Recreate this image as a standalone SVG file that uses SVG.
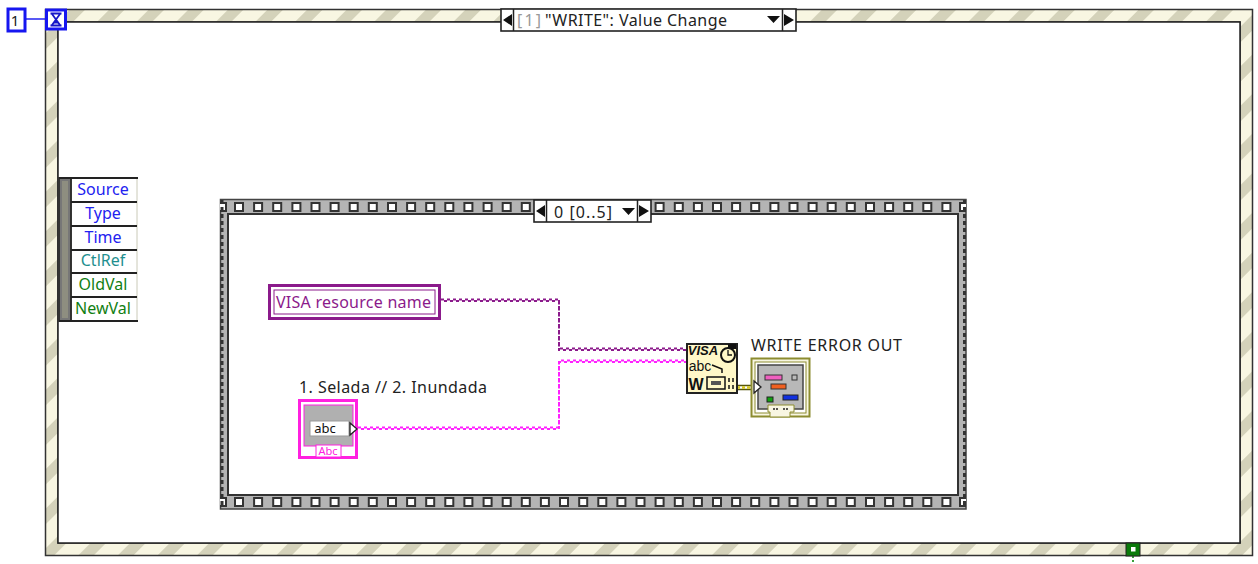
<svg xmlns="http://www.w3.org/2000/svg" width="1258" height="564" viewBox="0 0 1258 564">
<style>
text{font-family:"Noto Sans","DejaVu Sans",sans-serif;font-size:16px;text-anchor:middle}
.icon{font-family:"Liberation Sans",Arial,sans-serif;fill:#111}
.blue{fill:#2222f0}.teal{fill:#1f8f8f}.green{fill:#128012}
.hole{fill:#fff;stroke:#333;stroke-width:2}
.w{fill:none;stroke-width:2;stroke-dasharray:3 3}
</style>
<defs>
<pattern id="stripe" width="28" height="28" patternUnits="userSpaceOnUse" patternTransform="rotate(45)">
<rect width="28" height="28" fill="#f8f6e2"/><rect width="11" height="28" fill="#d4d2ba"/>
</pattern>
<rect id="h" class="hole" x="-4" y="-4" width="8" height="8"/>
<path id="wireV" d="M441 299.500H559V348.500H687"/>
<path id="wireP" d="M358 427.500H559V360.500H687"/>
<clipPath id="seqclip"><rect x="220" y="199" width="746" height="310"/></clipPath>
</defs>
<rect width="1258" height="564" fill="#fff"/>
<g id="event-frame">
<path d="M45.500 9.500H1252.500V555.500H45.500ZM58 22V543H1240V22Z" fill="url(#stripe)" fill-rule="evenodd" stroke="#333" stroke-width="1.500"/>
<rect x="58" y="22" width="1182" height="521" fill="#fff" stroke="#222" stroke-width="1.500"/>
</g>
<g id="timeout-constant">
<path d="M26 19H46" stroke="#2222f0" stroke-width="1.500"/>
<rect x="8" y="9" width="17" height="22" fill="#fff" stroke="#1616f0" stroke-width="3"/>
<text x="15" y="26" style="font-size:15px;fill:#222">1</text>
</g>
<g id="timeout-terminal">
<rect x="46.500" y="10" width="19" height="19" fill="#fff" stroke="#1616f0" stroke-width="3"/>
<path d="M50.500 13.500H61.500M50.500 25.500H61.500M52 14L60 25M60 14L52 25" fill="none" stroke="#1616c8" stroke-width="1.800"/>
<path d="M53 23.500H59L56 20Z" fill="#1616c8"/>
</g>
<g id="event-selector">
<rect x="501" y="9" width="295" height="22" fill="#fff" stroke="#222" stroke-width="1.600"/>
<path d="M513.500 9V31M782.500 9V31" stroke="#222" stroke-width="1.500"/>
<path d="M512 14V26L503 20ZM784 14V26L794 20ZM767 16H780L773.500 23Z" fill="#111"/>
<text x="529" y="26" textLength="24" style="fill:#999">[1]</text>
<text x="636" y="26" textLength="182" style="fill:#222">"WRITE": Value Change</text>
</g>
<g id="event-data-node">
<rect x="59" y="178" width="12" height="143" fill="#777" stroke="#333" stroke-width="2"/>
<rect x="62" y="181" width="6" height="137" fill="#8e8e80"/>
<rect x="71" y="178" width="66" height="143" fill="#fff" stroke="#dcdcd0" stroke-width="1.500"/>
<path d="M59 178H138M71 202H137M71 226H137M71 250H137M71 273H137M71 297H137M59 321H138M71 178V321" fill="none" stroke="#222" stroke-width="1.800"/>
<text class="blue" x="103" y="195">Source</text>
<text class="blue" x="103" y="219">Type</text>
<text class="blue" x="103" y="243">Time</text>
<text class="teal" x="103" y="266">CtlRef</text>
<text class="green" x="103" y="290">OldVal</text>
<text class="green" x="103" y="314">NewVal</text>
</g>
<g id="sequence-frame">
<path d="M220.500 199.500H966V509H220.500ZM228 214V495H958V214Z" fill="#b4b4b4" fill-rule="evenodd" stroke="#444" stroke-width="1.500"/>
<rect x="228" y="214" width="730" height="281" fill="#fff" stroke="#333" stroke-width="2"/>
<g id="holes-top">
<use href="#h" x="239" y="207"/><use href="#h" x="258.100" y="207"/><use href="#h" x="277.200" y="207"/><use href="#h" x="296.400" y="207"/><use href="#h" x="315.500" y="207"/><use href="#h" x="334.600" y="207"/><use href="#h" x="353.700" y="207"/><use href="#h" x="372.800" y="207"/><use href="#h" x="392" y="207"/><use href="#h" x="411.100" y="207"/><use href="#h" x="430.200" y="207"/><use href="#h" x="449.300" y="207"/><use href="#h" x="468.400" y="207"/><use href="#h" x="487.600" y="207"/><use href="#h" x="506.700" y="207"/><use href="#h" x="525.800" y="207"/>
<use href="#h" x="659.600" y="207"/><use href="#h" x="678.800" y="207"/><use href="#h" x="697.900" y="207"/><use href="#h" x="717" y="207"/><use href="#h" x="736.100" y="207"/><use href="#h" x="755.200" y="207"/><use href="#h" x="774.400" y="207"/><use href="#h" x="793.500" y="207"/><use href="#h" x="812.600" y="207"/><use href="#h" x="831.700" y="207"/><use href="#h" x="850.800" y="207"/><use href="#h" x="870" y="207"/><use href="#h" x="889.100" y="207"/><use href="#h" x="908.200" y="207"/><use href="#h" x="927.300" y="207"/><use href="#h" x="946.400" y="207"/>
</g>
<g id="holes-bottom">
<use href="#h" x="239" y="502"/><use href="#h" x="258.100" y="502"/><use href="#h" x="277.200" y="502"/><use href="#h" x="296.400" y="502"/><use href="#h" x="315.500" y="502"/><use href="#h" x="334.600" y="502"/><use href="#h" x="353.700" y="502"/><use href="#h" x="372.800" y="502"/><use href="#h" x="392" y="502"/><use href="#h" x="411.100" y="502"/><use href="#h" x="430.200" y="502"/><use href="#h" x="449.300" y="502"/><use href="#h" x="468.400" y="502"/><use href="#h" x="487.600" y="502"/><use href="#h" x="506.700" y="502"/><use href="#h" x="525.800" y="502"/><use href="#h" x="544.900" y="502"/><use href="#h" x="564" y="502"/><use href="#h" x="583.200" y="502"/><use href="#h" x="602.300" y="502"/><use href="#h" x="621.400" y="502"/><use href="#h" x="640.500" y="502"/><use href="#h" x="659.600" y="502"/><use href="#h" x="678.800" y="502"/><use href="#h" x="697.900" y="502"/><use href="#h" x="717" y="502"/><use href="#h" x="736.100" y="502"/><use href="#h" x="755.200" y="502"/><use href="#h" x="774.400" y="502"/><use href="#h" x="793.500" y="502"/><use href="#h" x="812.600" y="502"/><use href="#h" x="831.700" y="502"/><use href="#h" x="850.800" y="502"/><use href="#h" x="870" y="502"/><use href="#h" x="889.100" y="502"/><use href="#h" x="908.200" y="502"/><use href="#h" x="927.300" y="502"/><use href="#h" x="946.400" y="502"/>
</g>
<g clip-path="url(#seqclip)"><use href="#h" x="222" y="207"/><use href="#h" x="964" y="207"/><use href="#h" x="222" y="502"/><use href="#h" x="964" y="502"/></g>
<path d="M222 200V508M964.500 200V508" stroke="#333" stroke-width="3" stroke-dasharray="4 3"/>
</g>
<g id="sequence-selector">
<rect x="534" y="200" width="117" height="22" fill="#fff" stroke="#222" stroke-width="1.600"/>
<path d="M546.500 200V222M637.500 200V222" stroke="#222" stroke-width="1.500"/>
<path d="M545 205V217L536 211ZM639 205V217L649 211ZM622 208H635L628.500 215Z" fill="#111"/>
<text x="583" y="218" textLength="58" style="fill:#222">0 [0..5]</text>
</g>
<g id="connectors">
<g stroke="#8b1a8b">
<use href="#wireV" class="w"/>
<use href="#wireV" class="w" transform="translate(0 1.500)" stroke-dashoffset="3"/>
</g>
<g stroke="#ff20ff">
<use href="#wireP" class="w"/>
<use href="#wireP" class="w" transform="translate(0 1.500)" stroke-dashoffset="3"/>
</g>
<path d="M737 385.500H752M737 389.500H752" stroke="#55550a" stroke-width="1.500"/>
<path d="M737 387.500H752" stroke="#d8c820" stroke-width="2.500" stroke-dasharray="3 2"/>
<path d="M1133 556V566" stroke="#3aa03a" stroke-width="2" stroke-dasharray="2 2"/>
</g>
<g id="visa-resource-name">
<rect x="269.500" y="285.500" width="170" height="33" fill="#fff" stroke="#8b1a8b" stroke-width="3"/>
<rect x="274" y="290" width="161" height="24" fill="#fff" stroke="#8b1a8b"/>
<text x="353.500" y="308" textLength="155" style="fill:#8b1a8b">VISA resource name</text>
</g>
<g id="string-constant">
<text x="393" y="393" textLength="188" style="fill:#222">1. Selada // 2. Inundada</text>
<rect x="299.500" y="400.500" width="57" height="57" fill="#fff" stroke="#ff20e0" stroke-width="3"/>
<rect x="304" y="405" width="49" height="41" fill="#b0b0b0" stroke="#ff20e0"/>
<rect x="310" y="421" width="39" height="15" fill="#fff" stroke="#999"/>
<text x="325" y="433" style="font-size:13px;fill:#111">abc</text>
<path d="M350 423V435L357 429Z" fill="#fff" stroke="#222" stroke-width="1.300"/>
<rect x="316" y="445" width="25" height="12" fill="#fff" stroke="#ff20e0"/>
<text x="328" y="455" style="font-size:11px;fill:#ff20e0">Abc</text>
</g>
<g id="visa-write">
<rect x="687" y="344" width="50" height="49" fill="#fff8c8" stroke="#222" stroke-width="2"/>
<text class="icon" x="703" y="355" style="font-size:13px;font-style:italic;font-weight:bold">VISA</text>
<text class="icon" x="700" y="370.500" style="font-size:14px">abc</text>
<path d="M712 365L722 369V373" fill="none" stroke="#111" stroke-width="1.500"/>
<rect x="728" y="344" width="8" height="5" fill="#111"/>
<circle cx="728" cy="355" r="7" fill="#fff8c8" stroke="#111" stroke-width="2"/>
<path d="M728 350V355H732" fill="none" stroke="#111" stroke-width="1.300"/>
<text class="icon" x="696" y="390" style="font-size:16px;font-weight:bold">W</text>
<rect x="707" y="377" width="18" height="12" fill="#fff8c8" stroke="#111" stroke-width="1.500"/>
<rect x="711" y="381" width="10" height="4" fill="#555"/>
<path d="M729 378V382M729 385V389M733 378V382M733 385V389" stroke="#111" stroke-width="1.500"/>
</g>
<g id="write-error-out">
<text x="826.500" y="351" textLength="151" style="fill:#222">WRITE ERROR OUT</text>
<rect x="751.500" y="358.500" width="58" height="58" fill="#f8f6e2" stroke="#8c8c30" stroke-width="2"/>
<rect x="755" y="362" width="51" height="51" fill="#fff" stroke="#8c8c30"/>
<rect x="758" y="365" width="45" height="44" fill="#b8b8b8" stroke="#444" stroke-width="1.500"/>
<rect x="765" y="375" width="17" height="5" fill="#f060c0" stroke="#333"/>
<rect x="771" y="384" width="15" height="5" fill="#f06020" stroke="#333"/>
<rect x="792" y="375" width="5" height="5" fill="#bbb" stroke="#333"/>
<rect x="767" y="397" width="6" height="5" fill="#10a010" stroke="#222"/>
<rect x="783" y="395" width="15" height="5" fill="#1030e0" stroke="#222"/>
<path d="M754 381V393L761 387Z" fill="#fff" stroke="#222" stroke-width="1.300"/>
<path d="M768 405H794V412H790V417H770V412H768Z" fill="#f8f6e2" stroke="#8c8c30"/>
<path d="M773 409H778M783 409H788" stroke="#222" stroke-width="1.500" stroke-dasharray="2 1"/>
</g>
<g id="tunnel">
<rect x="1126" y="543" width="14" height="13" fill="#0a7a0a" stroke="#222"/>
<rect x="1131" y="547" width="4.500" height="4.500" fill="#fff"/>
</g>
</svg>
